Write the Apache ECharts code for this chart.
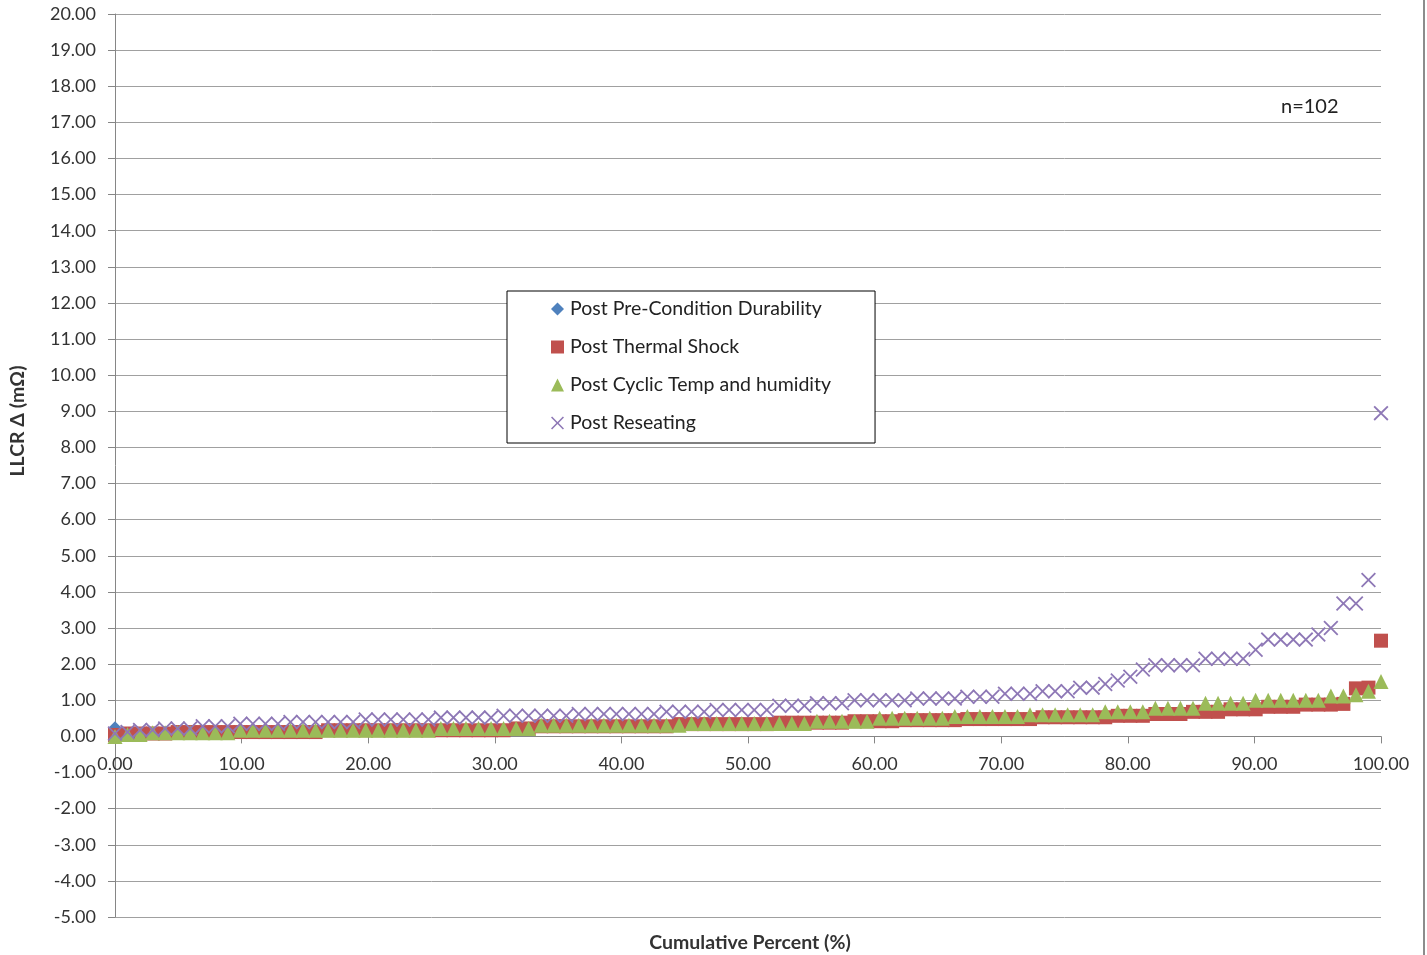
<!DOCTYPE html>
<html>
<head>
<meta charset="utf-8">
<script src="https://cdn.jsdelivr.net/npm/echarts@6/dist/echarts.min.js"></script>
<style>
html,body{margin:0;padding:0;background:#fff;}
#chart{width:1427px;height:955px;}
</style>
</head>
<body>
<div id="chart"></div>
<script>
// ---- data ----
var seriesNames = ['Post Pre-Condition Durability', 'Post Thermal Shock', 'Post Cyclic Temp and humidity', 'Post Reseating'];
var yTicks = { min: -5, max: 20, step: 1 };
var xTicks = { min: 0, max: 100, step: 10 };
var sampleCount = 102;

var preCondition = [0.25,
 0.08,0.08,0.08,0.08,
 0.12,0.12,0.12,0.12,0.12,0.12,0.12,0.12,0.12,0.12,0.12,0.12,
 0.17,0.17,0.17,0.17,0.17,0.17,0.17,0.17,0.17,0.17,0.17,0.17,0.17,0.17,0.17,
 0.22,0.22,
 0.29,0.29,0.29,0.29,0.29,0.29,0.29,0.29,0.29,0.29,0.29,
 0.34,0.34,0.34,0.34,0.34,0.34,0.34,0.34,
 0.38,0.38,0.38,0.38,0.38,0.38,
 0.42,0.42,0.42,0.42,
 0.45,0.45,0.45,0.45,0.45,
 0.48,0.48,0.48,0.48,0.48,0.48,
 0.53,0.53,0.53,0.53,0.53,0.53,
 0.57,0.57,0.57,
 0.62,0.62,0.62,
 0.68,0.68,0.68,
 0.75,0.75,0.75,
 0.82,0.82,0.82,
 0.88,0.88,0.88,
 0.90,1.33,1.35,2.65];

var thermalShock = [0.04,
 0.08,0.08,0.08,0.08,
 0.12,0.12,0.12,0.12,0.12,0.12,0.12,0.12,0.12,0.12,0.12,0.12,
 0.17,0.17,0.17,0.17,0.17,0.17,0.17,0.17,0.17,0.17,0.17,0.17,0.17,0.17,0.17,
 0.22,0.22,
 0.28,0.28,0.28,0.28,0.28,0.28,0.28,0.28,0.28,0.28,0.28,
 0.34,0.34,0.34,0.34,0.34,0.34,0.34,0.34,
 0.38,0.38,0.38,0.38,0.38,0.38,
 0.42,0.42,0.42,0.42,
 0.45,0.45,0.45,0.45,0.45,
 0.48,0.48,0.48,0.48,0.48,0.48,
 0.53,0.53,0.53,0.53,0.53,0.53,
 0.57,0.57,0.57,
 0.62,0.62,0.62,
 0.68,0.68,0.68,
 0.75,0.75,0.75,
 0.82,0.82,0.82,
 0.88,0.88,0.88,
 0.90,1.33,1.35,2.65];

var cyclicTempHumidity = [0.00,
 0.05,0.05,
 0.10,0.10,0.10,0.10,0.10,0.10,0.10,
 0.17,0.17,0.17,0.17,0.17,0.17,0.17,0.17,0.17,0.17,0.17,0.17,0.17,0.17,0.17,0.17,
 0.22,0.22,0.22,0.22,0.22,0.22,0.22,0.22,
 0.31,0.31,0.31,0.31,0.31,0.31,0.31,0.31,0.31,0.31,0.31,0.31,
 0.36,0.36,0.36,0.36,0.36,0.36,0.36,0.36,0.36,0.36,
 0.42,0.42,0.42,0.42,0.42,
 0.50,0.50,0.50,0.50,0.50,0.50,
 0.55,0.55,0.55,0.55,0.55,0.55,
 0.60,0.60,0.60,0.60,0.60,0.60,
 0.68,0.68,0.68,0.68,
 0.78,0.78,0.78,0.78,
 0.92,0.92,0.92,0.92,
 1.00,1.00,1.00,1.00,1.00,1.00,
 1.12,1.12,
 1.15,1.25,1.52];

var reseating = [0.08,
 0.12,
 0.18,0.18,
 0.22,0.22,0.22,
 0.28,0.28,0.28,
 0.35,0.35,0.35,0.35,
 0.40,0.40,0.40,0.40,0.40,0.40,
 0.47,0.47,0.47,0.47,0.47,0.47,
 0.52,0.52,0.52,0.52,0.52,
 0.57,0.57,0.57,0.57,0.57,0.57,
 0.62,0.62,0.62,0.62,0.62,0.62,0.62,
 0.68,0.68,0.68,0.68,
 0.73,0.73,0.73,0.73,0.73,
 0.85,0.85,0.85,
 0.92,0.92,0.92,
 1.00,1.00,1.00,1.00,1.00,
 1.05,1.05,1.05,1.05,
 1.10,1.10,1.10,
 1.18,1.18,1.18,
 1.25,1.25,1.25,
 1.35,1.35,
 1.45,1.55,1.65,1.85,
 1.97,1.97,1.97,1.97,
 2.15,2.15,2.15,2.15,
 2.40,
 2.68,2.68,2.68,2.68,
 2.82,3.00,3.68,3.68,4.33,8.95];

var annotation = 'n=102';
var xTitle = 'Cumulative Percent (%)';
var yTitle = 'LLCR \u0394 (m\u03A9)';

// ---- build ----
function pairs(vals) {
  var out = [];
  for (var i = 0; i < vals.length; i++) {
    out.push([i * 100 / (sampleCount - 1), vals[i]]);
  }
  return out;
}

var FONT = 'Lato';
var crossPath = 'path://M0,1.2L1.2,0L7,5.8L12.8,0L14,1.2L8.2,7L14,12.8L12.8,14L7,8.2L1.2,14L0,12.8L5.8,7Z';

var GRID_TOP = 14, GRID_BOTTOM = 38, H = 955;
var plotH = H - GRID_TOP - GRID_BOTTOM;
// distance from bottom of plot to the y=0 line
var zeroOffset = plotH * (0 - yTicks.min) / (yTicks.max - yTicks.min);

var chart = echarts.init(document.getElementById('chart'), null, { renderer: 'canvas' });
chart.setOption({
  backgroundColor: '#ffffff',
  animation: false,
  textStyle: { fontFamily: FONT },
  grid: { left: 115, right: 46, top: GRID_TOP, bottom: GRID_BOTTOM, containLabel: false },
  xAxis: {
    type: 'value', min: xTicks.min, max: xTicks.max, interval: xTicks.step,
    position: 'bottom', offset: -zeroOffset,
    axisLine: { show: true, onZero: false, lineStyle: { color: '#868686', width: 1 } },
    axisTick: { show: true, inside: false, length: 7, lineStyle: { color: '#868686' } },
    axisLabel: { color: '#333', fontSize: 18, fontFamily: FONT, margin: 19,
      formatter: function (v) { return v.toFixed(2); } },
    splitLine: { show: false }
  },
  yAxis: {
    type: 'value', min: yTicks.min, max: yTicks.max, interval: yTicks.step,
    axisLine: { show: true, onZero: false, lineStyle: { color: '#868686', width: 1 } },
    axisTick: { show: true, inside: false, length: 7, lineStyle: { color: '#868686' } },
    axisLabel: { color: '#333', fontSize: 18, fontFamily: FONT, margin: 19,
      formatter: function (v) { return v.toFixed(2); } },
    splitLine: { show: true, lineStyle: { color: '#a0a0a0', width: 1 } }
  },
  legend: {
    orient: 'vertical', left: 507, top: 291,
    padding: [8, 44, 10, 44], itemGap: 18, itemWidth: 13, itemHeight: 13,
    backgroundColor: '#ffffff', borderColor: '#000000', borderWidth: 1,
    textStyle: { fontFamily: FONT, fontSize: 19.5, color: '#222', lineHeight: 20, padding: [0, 0, 0, 1] },
    data: seriesNames
  },
  series: [
    { name: seriesNames[0], type: 'scatter', symbol: 'diamond', symbolSize: 12,
      itemStyle: { color: '#4F81BD', opacity: 1 }, data: pairs(preCondition) },
    { name: seriesNames[1], type: 'scatter', symbol: 'rect', symbolSize: 14,
      itemStyle: { color: '#C0504D', opacity: 1 }, data: pairs(thermalShock) },
    { name: seriesNames[2], type: 'scatter', symbol: 'triangle', symbolSize: 15,
      itemStyle: { color: '#9BBB59', opacity: 1 }, data: pairs(cyclicTempHumidity) },
    { name: seriesNames[3], type: 'scatter', symbol: crossPath, symbolSize: 15,
      itemStyle: { color: '#8E78B6', opacity: 1 }, data: pairs(reseating) }
  ],
  graphic: [
    { type: 'text', left: 1281, top: 97, style: { text: annotation, fontFamily: FONT, fontSize: 20, fill: '#222' } },
    { type: 'text', x: 750, y: 943, style: { text: xTitle, fontFamily: FONT, fontSize: 19.5, fontWeight: 'bold', fill: '#333', align: 'center', verticalAlign: 'middle' } },
    { type: 'text', x: 18, y: 421, rotation: Math.PI / 2, style: { text: yTitle, fontFamily: FONT, fontSize: 19.5, fontWeight: 'bold', fill: '#333', align: 'center', verticalAlign: 'middle' } },
    { type: 'line', shape: { x1: 1424, y1: 0, x2: 1424, y2: 955 }, style: { stroke: '#8c8c8c', lineWidth: 2 } }
  ]
});
</script>
</body>
</html>
